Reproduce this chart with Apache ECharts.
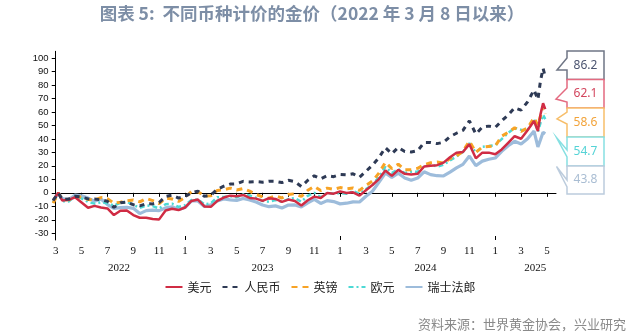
<!DOCTYPE html>
<html><head><meta charset="utf-8">
<script src="https://cdn.jsdelivr.net/npm/echarts@6/dist/echarts.min.js"></script>
<style>html,body{margin:0;padding:0;background:#fff}#c{width:640px;height:336px}</style>
</head><body><div id="c"></div>
<script>
// month index: 0 = March 2022 tick
const xMonths = [-0.2,0.2,0.5,1,1.5,2,2.5,3,3.5,4,4.5,5,5.5,6,6.5,7,7.5,8,8.5,9,9.5,10,10.5,11,11.5,12,12.5,13,13.5,14,14.5,15,15.5,16,16.5,17,17.5,18,18.5,19,19.5,20,20.5,21,21.5,22,22.5,23,23.5,24,24.5,25,25.5,26,26.5,27,27.5,28,28.5,29,29.5,30,30.5,31,31.5,32,32.5,33,33.5,34,34.5,35,35.5,36,36.5,37,37.3,37.5,37.7,37.87];
const usd = [-5.5,0,-5.7,-5.2,-3.3,-7.2,-11.1,-9.7,-10.9,-11.6,-16.5,-13.3,-13.1,-16.5,-18.5,-18.5,-19.4,-19.7,-13.1,-11.8,-12.8,-10.9,-6.0,-5.0,-10.1,-10.4,-6.0,-3.5,-2.1,-2.5,-1.6,-3.8,-4.3,-6.0,-4.0,-4.5,-6.7,-5.0,-6.0,-9.4,-5.5,-2.8,-3.8,-0.1,-0.6,1.1,-0.1,0.4,-2.1,1.9,5.8,10.2,16.6,12.6,17.0,14.1,13.6,14.1,19.5,20.0,20.5,22.4,26.4,29.8,30.3,36.1,25.6,29.8,29.8,28.6,32.2,37.1,42.0,40.1,46.4,53.3,45.9,58.2,66.5,62.1];
const cny = [-5.6,0,-5.0,-4.6,-2.5,-3.1,-4.5,-4.6,-5.2,-6.3,-10.8,-7.4,-6.8,-8.8,-9.7,-8.1,-8.2,-7.2,-2.6,-1.7,-3.9,-2.7,0.0,1.3,-2.6,-1.7,2.7,4.9,6.5,6.7,8.5,8.1,8.3,7.9,8.6,8.5,7.6,9.3,8.3,4.7,9.3,12.6,10.4,12.7,12.0,13.6,13.3,14.1,11.6,16.0,20.5,26.1,33.5,29.0,33.7,30.7,30.3,31.3,37.3,37.3,36.5,37.5,41.7,44.2,46.3,53.4,43.7,48.7,49.5,48.5,53.4,57.7,63.1,61.3,67.5,76.3,69.3,83.0,92.3,86.2];
const gbp = [-7.6,0,-5.0,-5.2,-2.9,-3.1,-5.0,-5.3,-3.5,-4.3,-7.7,-6.9,-5.9,-5.3,-6.7,-4.2,-5.8,-8.1,-3.9,-4.6,-6.4,-3.5,1.0,0.8,-2.3,-2.2,1.8,2.3,3.5,2.1,3.2,1.3,-1.2,-3.0,-4.0,-2.3,-3.8,-1.2,-0.7,-2.7,1.9,4.8,1.7,3.5,2.5,3.9,3.0,3.6,1.8,5.5,8.7,14.6,22.6,18.0,21.2,17.2,17.2,18.2,20.9,22.3,22.8,22.0,25.4,27.3,30.8,38.3,30.1,33.9,34.4,34.7,42.0,44.9,48.2,45.6,48.1,55.7,50.0,57.0,64.0,58.6];
const eur = [-7.2,0,-6.2,-6.5,-2.4,-4.1,-6.8,-8.0,-7.0,-7.8,-9.4,-7.4,-6.7,-9.0,-11.1,-9.3,-9.9,-11.6,-8.5,-8.1,-10.4,-9.2,-5.4,-5.0,-8.5,-7.8,-3.3,-3.1,-2.5,-3.4,-1.1,-2.0,-3.8,-6.0,-6.6,-5.4,-6.7,-4.6,-3.9,-6.6,-2.2,0.0,-3.3,-0.1,-0.6,-0.2,-0.6,1.3,-0.7,2.8,5.8,11.7,19.3,14.7,17.6,14.6,15.7,15.7,19.5,21.1,19.4,20.8,24.1,26.9,30.3,36.8,29.8,34.1,34.7,35.4,39.9,44.4,48.1,46.8,46.4,54.7,45.3,51.9,57.8,54.7];
const chf = [-6.3,0,-4.2,-5.2,-1.7,-2.2,-3.9,-6.2,-4.6,-8.7,-11.5,-11.0,-10.7,-11.5,-15.4,-13.2,-12.9,-13.2,-11.2,-10.4,-12.4,-10.9,-6.0,-6.0,-10.1,-8.9,-6.0,-4.6,-5.2,-5.7,-4.2,-5.3,-6.8,-9.0,-10.3,-9.7,-11.2,-9.1,-9.0,-10.4,-7.5,-4.9,-7.9,-5.8,-6.5,-8.2,-7.7,-6.7,-6.8,-2.5,1.2,7.8,14.7,11.4,14.5,11.0,9.3,11.0,15.6,13.5,12.7,12.5,15.4,18.5,21.1,27.3,20.2,23.5,24.9,25.8,30.8,34.9,38.2,36.3,40.1,45.8,34.1,39.4,44.9,43.8];

const seriesNames = ['美元','人民币','英镑','欧元','瑞士法郎'];
const endLabels = ['86.2','62.1','58.6','54.7','43.8'];
const monthTickPos = [0,2,4,6,8,10,12,14,16,18,20,22,24,26,28,30,32,34,36,38];
const monthTickLabels = ['3','5','7','9','11','1','3','5','7','9','11','1','3','5','7','9','11','1','3','5'];
const yearTickPos = [10,22,34];
const yearLabelPos = [4.9,16,28.6,37.1];
const yearLabels = ['2022','2023','2024','2025'];
const yTicks = [-30,-20,-10,0,10,20,30,40,50,60,70,80,90,100];

const titleText = '图表 5:  不同币种计价的金价（2022 年 3 月 8 日以来）';
const sourceText = '资料来源：世界黄金协会，兴业研究';

const colors = {usd:'#D02C44', cny:'#2E3A55', gbp:'#F7A325', eur:'#4DD9D5', chf:'#9DBCDB'};

function pairs(arr){ return xMonths.map((x,i)=>[x, arr[i]]); }

const chart = echarts.init(document.getElementById('c'), null, {renderer:'canvas'});

// callouts (order: CNY, USD, GBP, EUR, CHF)
const boxStroke = ['#6F7585','#E46A80','#F7BE6A','#86E0E2','#BCCCDD'];
const boxText = ['#4B5470','#D2455D','#F2A33A','#55D3D6','#A9BDD3'];
const x0 = 567, x1 = 604;
const boxes = [
  {t:51, b:79.5, p:[[x0,70],[557,70],[x0,58]]},
  {t:79.5, b:108, p:[[x0,102],[556,99],[x0,88]]},
  {t:108, b:137, p:[[x0,124],[557,119],[x0,112]]},
  {t:137, b:166, p:[[x0,157],[556.5,137.5],[x0,150]]},
  {t:166, b:194, p:[[x0,187],[556.5,166.5],[x0,180]]}
];
const graphics = [];
boxes.forEach((bx,i)=>{
  graphics.push({type:'polygon', z:10+i, shape:{points:[[x0,bx.t],[x1,bx.t],[x1,bx.b],[x0,bx.b]].concat(bx.p)},
    style:{fill:'#fff', stroke:boxStroke[i], lineWidth:1.5}});
  graphics.push({type:'text', z:20, x:(x0+x1)/2, y:(bx.t+bx.b)/2,
    style:{text:endLabels[i], fill:boxText[i], fontSize:12, fontFamily:'Noto Sans', align:'center', verticalAlign:'middle'}});
});
graphics.push({type:'text', z:20, x:312, y:13, style:{text:titleText, fill:'#7D8EA6', fontSize:17.5, fontWeight:'bold', fontFamily:'Noto Sans CJK SC', align:'center', verticalAlign:'middle'}});
graphics.push({type:'text', right:14, top:318, style:{text:sourceText, fill:'#8a8a8a', fontSize:13, fontFamily:'Noto Sans CJK SC'}});

const option = {
  animation:false,
  backgroundColor:'#fff',
  grid:{left:52.5, right:84, top:51.3, bottom:96, containLabel:false},
  legend:{data:seriesNames, left:'center', top:276, itemWidth:17, itemHeight:10, itemGap:10,
    itemStyle:{opacity:0},
    textStyle:{fontSize:12, color:'#222', fontFamily:'Noto Sans CJK SC'}},
  xAxis:[
    {type:'value', min:-0.25, max:38.7, position:'bottom',
     axisLine:{show:true, lineStyle:{color:'#000', width:1}},
     axisTick:{show:true, customValues:monthTickPos, length:4, lineStyle:{color:'#000'}},
     axisLabel:{customValues:monthTickPos, formatter:(v)=>monthTickLabels[monthTickPos.indexOf(v)] ?? '', margin:6,
       fontFamily:'Liberation Serif', fontSize:11, color:'#111'},
     splitLine:{show:false}},
    {type:'value', min:-0.25, max:38.7, position:'bottom',
     axisLine:{show:false},
     axisTick:{show:true, customValues:yearTickPos, inside:true, length:4, lineStyle:{color:'#000'}},
     axisLabel:{customValues:yearLabelPos, formatter:(v)=>yearLabels[yearLabelPos.indexOf(v)] ?? '', margin:23,
       fontFamily:'Liberation Serif', fontSize:11, color:'#111'},
     splitLine:{show:false}}
  ],
  yAxis:{type:'value', min:-35, max:105,
    axisLine:{show:true, lineStyle:{color:'#000', width:1}},
    axisTick:{show:true, customValues:yTicks, length:4, lineStyle:{color:'#000'}},
    axisLabel:{customValues:yTicks, margin:4, fontFamily:'Liberation Sans', fontSize:9.5, color:'#111'},
    splitLine:{show:false}},
  series:[
    {name:'瑞士法郎', type:'line', z:1, data:pairs(chf), symbol:'none', lineStyle:{color:colors.chf, width:3.2}, itemStyle:{color:colors.chf}},
    {name:'欧元', type:'line', z:2, data:pairs(eur), symbol:'none', lineStyle:{color:colors.eur, width:2.5, type:[5,3,2,3]}, itemStyle:{color:colors.eur}},
    {name:'英镑', type:'line', z:3, data:pairs(gbp), symbol:'none', lineStyle:{color:colors.gbp, width:3, type:[6,5]}, itemStyle:{color:colors.gbp}},
    {name:'美元', type:'line', z:4, data:pairs(usd), symbol:'none', lineStyle:{color:colors.usd, width:2.5}, itemStyle:{color:colors.usd}},
    {name:'人民币', type:'line', z:5, data:pairs(cny), symbol:'none', lineStyle:{color:colors.cny, width:3, type:[5,5]}, itemStyle:{color:colors.cny}}
  ],
  graphic:graphics
};
chart.setOption(option);
</script></body></html>
